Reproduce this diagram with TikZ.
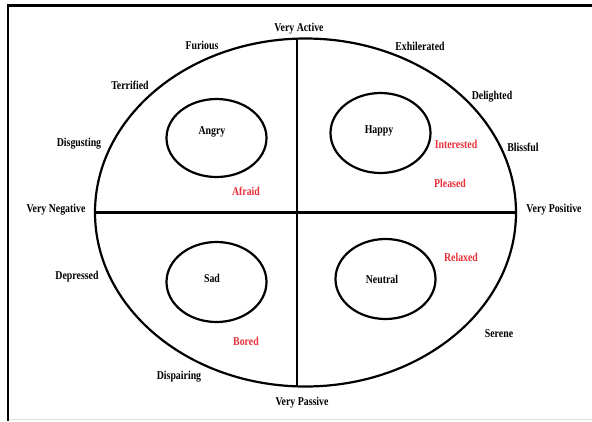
\documentclass[tikz,border=0pt]{standalone}
\usepackage{fontspec}
\setmainfont{Liberation Serif}[FakeStretch=0.82]
\usetikzlibrary{shapes.geometric}
\definecolor{emored}{RGB}{232,48,58}
\definecolor{framegray}{RGB}{225,225,225}
\tikzset{
  ring/.style={draw=black, line width=2.2pt, ellipse, inner sep=0pt},
  axis/.style={draw=black, line width=2.2pt},
  lbl/.style={font=\bfseries\fontsize{12}{14}\selectfont, text=black, inner sep=0pt},
  hot/.style={lbl, text=emored},
}
\begin{document}
\begin{tikzpicture}[x=1pt, y=-1pt]
  \useasboundingbox (0,0) rectangle (592,421);
  % page frame
  \draw[framegray, line width=1pt] (8,419.5) -- (592,419.5);
  \draw[black, line width=2.6pt] (8,421) -- (8,5.5) -- (592,5.5);

  % outer circumplex and its axes
  \node[ring, minimum width=421pt, minimum height=348pt] (big) at (305.5,212.5) {};
  \coordinate (vtop) at (297,38.7);
  \coordinate (vbottom) at (297,386.3);
  \draw[axis] (big.west) -- (big.east);
  \draw[axis] (vtop) -- (vbottom);

  % quadrant ellipses
  \node[ring, minimum width=100pt, minimum height=78pt] (angry) at (216.5,138) {};
  \node[ring, minimum width=100pt, minimum height=80pt] (happy) at (380.5,133) {};
  \node[ring, minimum width=100pt, minimum height=80pt] (sad) at (216.5,282) {};
  \node[ring, minimum width=100pt, minimum height=80pt] (neutral) at (385.5,279) {};

  \node[lbl] (tangry) at (212,132) {Angry};
  \node[lbl] (thappy) at (379,131) {Happy};
  \node[lbl] (tsad) at (212,278) {Sad};
  \node[lbl] (tneutral) at (382,279) {Neutral};

  % axis ends
  \node[lbl] (active) at (299,29) {Very Active};
  \node[lbl] (passive) at (302,403) {Very Passive};
  \node[lbl] (negative) at (56,210) {Very Negative};
  \node[lbl] (positive) at (554,210) {Very Positive};

  % outer emotions
  \node[lbl] (furious) at (202,45) {Furious};
  \node[lbl] (terrified) at (130,85) {Terrified};
  \node[lbl] (disgusting) at (79,144) {Disgusting};
  \node[lbl] (depressed) at (77,277) {Depressed};
  \node[lbl] (dispairing) at (179,377) {Dispairing};
  \node[lbl] (exhilerated) at (420,46) {Exhilerated};
  \node[lbl] (delighted) at (492,97) {Delighted};
  \node[lbl] (blissful) at (523,147) {Blissful};
  \node[lbl] (serene) at (499,334) {Serene};

  % inner emotions
  \node[hot] (afraid) at (246,191) {Afraid};
  \node[hot] (interested) at (456,144) {Interested};
  \node[hot] (pleased) at (450,183) {Pleased};
  \node[hot] (relaxed) at (461,257) {Relaxed};
  \node[hot] (bored) at (246,341) {Bored};
\end{tikzpicture}
\end{document}
